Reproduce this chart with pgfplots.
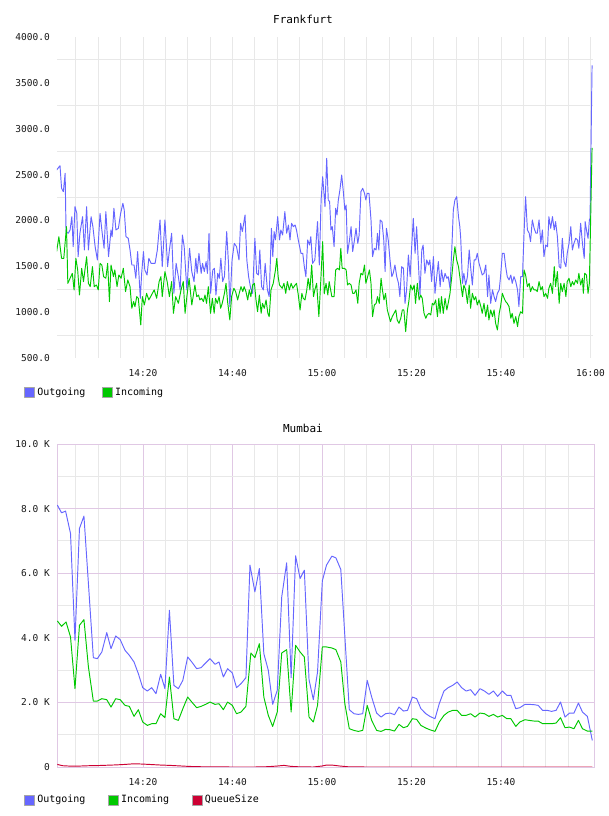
\documentclass[border=0pt]{standalone}
\usepackage{fontspec}
\setmainfont{DejaVu Sans Mono}
\usepackage{pgfplots}
\pgfplotsset{compat=1.18}

\definecolor{outcol}{RGB}{102,102,255}
\definecolor{incol}{RGB}{0,200,0}
\definecolor{qcol}{RGB}{204,0,51}
\definecolor{gridgray}{RGB}{232,232,232}
\definecolor{gridpink}{RGB}{224,200,228}
\definecolor{ticktext}{RGB}{25,25,25}

\pgfplotsset{
  netchart/.style={
    scale only axis,
    xmin=0.78,
    scaled x ticks=false, scaled y ticks=false,
    major tick length=0pt, minor tick length=0pt,
    tick style={draw=none},
    tick label style={font=\fontsize{9.5}{10}\selectfont, text=ticktext},
    /pgf/number format/assume math mode=true,
    minor xtick={5,10,15,25,30,35,45,50,55,65,70,75,85,90,95,105,110,115},
    xticklabel style={anchor=north, inner sep=0pt, yshift=-11pt},
    yticklabel style={anchor=east, inner sep=0pt, xshift=-7pt},
    legend image code/.code={\filldraw[#1, draw=black!35, line width=0.6pt] (0pt,-5pt) rectangle (10pt,5pt);},
    legend style={draw=none, fill=none, inner sep=0pt, font=\fontsize{10}{11}\selectfont,
      legend columns=-1, nodes={inner sep=2.5pt, anchor=west}},
  },
  series/.style={line width=0.95pt, line join=round, mark=none},
}

\begin{document}
\begin{tikzpicture}
\useasboundingbox (0pt,0pt) rectangle (608pt,816pt);

% ---------------- Frankfurt ----------------
\begin{axis}[netchart,
  at={(57pt,458pt)}, anchor=south west,
  width=536pt, height=321pt,
  xmax=120.56, ymin=500, ymax=4000,
  axis line style={draw=none},
  xtick={20,40,60,80,100,120},
  xticklabels={14:20,14:40,15:00,15:20,15:40,16:00},
  ytick={500,1000,1500,2000,2500,3000,3500,4000},
  yticklabels={500.0,1000.0,1500.0,2000.0,2500.0,3000.0,3500.0,4000.0},
  minor ytick={750,1250,1750,2250,2750,3250,3750},
  xmajorgrids, xminorgrids, yminorgrids,
  major grid style={gridgray, line width=0.9pt},
  minor grid style={gridgray, line width=0.9pt},
  title={Frankfurt},
  every axis title/.style={at={(0.459,1)}, anchor=base, yshift=13pt, font=\fontsize{11}{12}\selectfont},
  legend style={at={(-0.0616,-0.106)}, anchor=west, /tikz/every even column/.append style={column sep=14pt}},
]
\addplot[series, color=outcol] coordinates {
(0.7,2550) (1.45,2597) (1.8,2350) (2.2,2314) (2.6,2514) (2.8,1878) (3.3,1860) (3.7,1896)
(4.1,2041) (4.4,1714) (4.8,2150) (5.2,2077) (5.5,1605) (5.9,1860) (6.5,2041) (6.9,1678)
(7.4,2150) (7.8,1678) (8.4,2041) (8.8,1932) (9.3,1714) (9.8,1569) (10.4,2077) (10.8,1896)
(11.3,1696) (11.7,2096) (12.3,1605) (12.85,1896) (13.1,1823) (13.5,2132) (13.95,1896)
(14.5,1914) (15.0,2077) (15.5,2187) (15.8,2114) (16.2,1823) (16.7,1805) (17.1,1678)
(17.5,1514) (18.0,1514) (18.4,1369) (18.8,1660) (19.4,1151) (19.7,1423) (20.1,1660)
(20.4,1460) (20.9,1405) (21.3,1587) (21.8,1532) (22.7,1532) (23.2,1678) (23.8,2005)
(24.3,1496) (24.9,2005) (25.5,1496) (25.9,1678) (26.4,1860) (26.9,1205) (27.4,1532)
(27.9,1387) (28.3,1242) (28.8,1841) (29.2,1714) (29.8,1242) (30.4,1696)
(30.9,1442) (31.4,1333) (31.8,1587) (32.1,1423) (32.5,1641) (33.0,1423) (33.3,1532)
(33.7,1442) (34.1,1551) (34.4,1423) (34.75,1860) (35.1,1205) (35.6,1460) (35.95,1478)
(36.3,1187) (36.7,1423) (37.05,1369) (37.4,1587) (37.8,1333) (38.2,1387) (38.7,1878)
(39.1,1532) (39.4,1060) (39.9,1569) (40.4,1750) (40.9,1714) (41.45,1569) (41.8,1969)
(42.2,1878) (42.8,2059) (43.2,1569) (43.6,1387) (44.06,1260) (44.5,1205) (45.0,1805)
(45.4,1423) (45.8,1405) (46.1,1678) (46.5,1278) (46.9,1242) (47.3,1532) (47.8,1242)
(48.2,1169) (48.7,1914) (49.0,1605) (49.3,1878) (49.6,1787) (50.1,2041) (50.5,1787)
(50.8,1896) (51.2,1841) (51.7,2096) (52.1,1860) (52.5,1950) (52.85,1787) (53.2,1969)
(53.6,1932) (54.0,1950) (54.3,1896) (54.7,1787) (55.3,1641) (55.7,1641) (56.05,1496)
(56.4,1387) (56.8,1787) (57.2,1732) (57.5,1823) (57.9,1532) (58.4,1569) (59.0,1987)
(59.4,1514) (59.8,2223) (60.15,2477)
(60.67,2150) (61.05,2677) (61.4,2223) (61.7,2205) (62.0,1896) (62.3,1932) (62.7,1714)
(63.05,2132) (63.35,2059) (63.65,2223) (64.0,2332) (64.4,2495) (64.8,2296) (65.1,2114)
(65.4,2168) (65.7,1641) (66.1,1769) (66.5,1932) (66.85,1660) (67.2,1769) (67.6,1914)
(68.0,1750) (68.3,1841) (68.7,2314) (69.1,2350) (69.5,2296) (69.8,2223) (70.1,2296)
(70.5,2296) (70.95,2005) (71.3,1605) (71.7,1696) (72.1,1678) (72.4,1860) (72.7,1678)
(73.0,2005) (73.4,1987) (73.8,1787) (74.1,1442) (74.4,1914) (74.8,1787) (75.2,1569)
(75.6,1387) (75.9,1423) (76.3,1514) (76.7,1387) (77.1,1314) (77.4,1169) (77.8,1496)
(78.2,1478) (78.55,1096) (78.9,1242) (79.3,1623) (79.7,1387) (80.0,1678) (80.4,2023)
(80.8,1641) (81.15,1932) (81.5,1569) (81.9,1187) (82.3,1678) (82.6,1732) (83.0,1423)
(83.4,1569) (83.8,1514) (84.1,1569) (84.5,1333) (84.9,1605) (85.25,1205) (85.6,1369)
(86.0,1551) (86.4,1278) (86.7,1460) (87.1,1333) (87.5,1423) (87.9,1369) (88.2,1387)
(88.6,1260) (89.0,1678) (89.35,2114) (89.7,2223) (90.1,2259) (90.5,2041) (90.8,1932)
(91.0,1805) (91.4,1314) (91.7,1423) (92.1,1296) (92.5,1387) (92.9,1678) (93.2,1496)
(93.6,1296) (94.0,1569) (94.35,1569) (94.7,1641) (95.1,1532) (95.5,1460) (95.8,1405)
(96.2,1423) (96.6,1514) (97.0,1169) (97.3,1405) (97.7,1096) (98.1,1242) (98.45,1169)
(98.8,1115) (99.2,1205) (99.6,1242) (99.9,1387) (100.3,1641) (100.7,1641) (101.05,1496)
(101.4,1387) (101.8,1351) (102.2,1405) (102.5,1314) (102.9,1387) (103.3,1333) (103.7,1242)
(104.0,1060) (104.4,1387) (104.8,1387) (105.15,1860) (105.5,2259) (105.9,1896) (106.3,1860)
(106.6,1769) (107.0,2005) (107.4,1914) (107.8,1860) (108.1,1860) (108.5,2005) (108.9,1750)
(109.25,1896) (109.6,1605) (110.0,1732) (110.4,1714) (110.7,2041) (111.1,1914) (111.5,2041)
(111.9,1896) (112.2,1987) (112.6,1823) (113.0,1496) (113.35,1478) (113.7,1805) (114.1,1551)
(114.5,1496) (114.8,1641) (115.2,1750) (115.6,1932) (115.95,1678) (116.3,1750) (116.7,1805)
(117.1,1787) (117.4,1696) (117.8,1969) (118.2,1750) (118.6,1587) (118.8,1987) (119.1,1896)
(119.45,1805) (119.75,2005) (119.9,2023) (120.35,3690)
};
\addlegendentry{Outgoing}
\addplot[series, color=incol] coordinates {
(0.7,1660) (1.2,1823) (1.8,1587) (2.3,1587) (2.9,1932) (3.2,1314) (3.7,1369) (4.2,1423)
(4.6,1242) (5.0,1587) (5.4,1460) (5.8,1187) (6.3,1478) (6.7,1333) (7.4,1605) (7.8,1314)
(8.2,1278) (8.7,1496) (9.1,1278) (9.6,1296) (10.0,1242) (10.4,1532) (10.8,1514) (11.2,1387)
(11.7,1369) (12.1,1532) (12.5,1115) (12.85,1514) (13.4,1387) (13.7,1460) (14.2,1278)
(14.6,1405) (15.1,1369) (15.6,1478) (16.1,1224) (16.6,1351) (17.1,1278) (17.5,1042)
(17.9,1115) (18.2,1060) (18.6,1169) (18.95,1151) (19.5,860) (19.85,1169) (20.3,1078)
(20.8,1205) (21.3,1133) (21.9,1187) (22.5,1242) (23.05,1151) (23.6,1333) (24.0,1387)
(24.3,1169) (24.9,1442) (25.4,1333) (25.9,1169) (26.4,1333) (26.8,987) (27.3,1169)
(27.9,1096) (28.5,1242) (29.0,1333) (29.4,987) (29.8,1169) (30.3,1369)
(30.9,1078) (31.2,1169) (31.6,1296) (32.0,1169) (32.4,1187) (32.7,1133) (33.1,1151)
(33.5,1115) (33.85,1187) (34.2,1096) (34.6,1278) (35.1,987) (35.5,1151) (35.9,987)
(36.2,1151) (36.6,1096) (37.0,1169) (37.35,1042) (37.7,1096) (38.2,1205) (38.55,1314)
(38.9,1115) (39.4,915) (39.8,1169) (40.3,1260) (40.7,1224) (41.15,1133) (41.5,1205)
(41.9,1278) (42.3,1224) (42.6,1278) (43.0,1224) (43.4,1133) (43.75,1242) (44.1,1169)
(44.5,1296) (44.9,1314) (45.25,1133) (45.6,1005) (46.0,1187) (46.4,987) (46.7,1096)
(47.1,1042) (47.5,1133) (47.9,987) (48.2,951) (48.6,1242) (49.1,1314) (49.6,1460)
(49.9,1587) (50.2,1387) (50.5,1296) (51.1,1260) (51.5,1314) (51.9,1205) (52.25,1333)
(52.7,1242) (53.1,1314) (53.5,1260) (54.0,1296) (54.3,1314) (54.7,1187) (55.1,1024)
(55.5,1205) (55.8,1151) (56.2,1133) (56.6,1242) (56.9,1369) (57.3,1242) (57.7,1514)
(58.1,1169) (58.4,1242) (58.8,1314) (59.3,951) (59.7,1314) (60.15,1769) (60.5,1200)
(60.9,1314) (61.3,1187) (61.6,1333)
(62.2,1169) (62.7,1169) (63.05,1460) (63.5,1478) (63.9,1460) (64.2,1696) (64.5,1478)
(65.0,1478) (65.4,1460) (65.7,1296) (66.1,1314) (66.5,1296) (66.85,1205) (67.2,1205)
(67.6,1242) (68.0,1096) (68.3,1314) (68.7,1423) (69.1,1405) (69.5,1514) (69.8,1314)
(70.2,1387) (70.6,1460) (70.95,1314) (71.3,951) (71.7,1078) (72.1,1096) (72.4,1169)
(72.8,1096) (73.2,1369) (73.5,1242) (73.85,1133) (74.2,1205) (74.6,1024) (75.0,951)
(75.3,896) (75.7,951) (76.1,987) (76.5,1024) (76.8,915) (77.2,878) (77.6,933) (77.95,1024)
(78.3,1024) (78.7,787) (79.1,1024) (79.4,1115) (79.8,1296) (80.2,1242) (80.6,1296)
(80.9,1096) (81.3,1314) (81.7,1133) (82.05,1187) (82.4,1151) (82.8,987) (83.2,933)
(83.5,969) (83.9,987) (84.3,969) (84.65,1096) (85.0,1078) (85.4,1133) (85.8,951)
(86.1,1151) (86.4,987) (86.7,1169) (87.1,987) (87.5,1151) (87.9,1024) (88.2,1096)
(88.6,1205) (89.0,1387) (89.35,1569) (89.7,1714) (90.1,1569) (90.5,1496) (90.8,1387)
(91.0,1314) (91.4,1169) (91.7,1296) (92.1,1242) (92.5,1096) (92.9,1296) (93.2,1042)
(93.6,1205) (94.0,1133) (94.35,1169) (94.7,1078) (95.1,1133) (95.5,1060) (95.8,987)
(96.2,1096) (96.6,951) (97.0,1078) (97.3,915) (97.7,1024) (98.1,951) (98.45,1024)
(98.8,878) (99.2,806) (99.6,987) (99.9,1060) (100.3,1205) (100.7,1151) (101.05,1115)
(101.4,1096) (101.8,1060) (102.2,933) (102.5,987) (102.9,878) (103.3,951) (103.7,842)
(104.0,951) (104.4,1005) (104.8,987) (105.15,1460) (105.5,1405) (105.9,1278) (106.3,1314)
(106.6,1224) (107.0,1278) (107.4,1242) (107.8,1242) (108.1,1224) (108.5,1333) (108.9,1242)
(109.25,1278) (109.6,1169) (110.0,1205) (110.4,1151) (110.7,1260) (111.1,1314) (111.5,1205)
(111.9,1496) (112.2,1278) (112.6,1442) (113.0,1096) (113.35,1314) (113.7,1224) (114.1,1314)
(114.5,1169) (114.8,1333) (115.2,1369) (115.6,1278) (115.95,1333) (116.3,1296) (116.7,1351)
(117.1,1314) (117.4,1423) (117.8,1296) (118.2,1369) (118.4,1205) (118.7,1423) (119.1,1405)
(119.45,1205) (119.75,1314) (120.35,2790)
};
\addlegendentry{Incoming}
\end{axis}

% ---------------- Mumbai ----------------
\begin{axis}[netchart,
  at={(57pt,49pt)}, anchor=south west,
  width=537pt, height=323pt,
  xmax=120.78, ymin=0, ymax=10000,
  axis line style={gridpink, line width=0.9pt},
  xtick={20,40,60,80,100},
  xticklabels={14:20,14:40,15:00,15:20,15:40},
  ytick={0,2000,4000,6000,8000,10000},
  yticklabels={0,2.0 K,4.0 K,6.0 K,8.0 K,10.0 K},
  minor ytick={1000,3000,5000,7000,9000},
  grid=both,
  major grid style={gridpink, line width=0.9pt},
  minor grid style={gridgray, line width=0.9pt},
  title={Mumbai},
  every axis title/.style={at={(0.458,1)}, anchor=base, yshift=11pt, font=\fontsize{11}{12}\selectfont},
  legend style={at={(-0.0615,-0.102)}, anchor=west, /tikz/every even column/.append style={column sep=20pt}},
]
\addplot[series, color=outcol] coordinates {
(0.86,8108) (1.8,7870) (2.7,7922) (3.8,7230) (4.8,3922) (5.8,7385) (6.8,7767)
(8.9,3385) (9.8,3354) (10.8,3561) (11.9,4160) (12.85,3664) (13.9,4057) (14.9,3943)
(15.98,3612) (16.95,3457) (17.99,3251) (18.96,2889) (19.93,2456) (20.97,2352) (21.94,2456)
(22.9,2270) (23.95,2869) (24.9,2425) (25.9,4852) (26.9,2528) (27.9,2425) (28.9,2683)
(29.98,3406) (30.9,3251) (31.99,3044) (32.96,3075) (34.0,3220) (34.97,3354) (36.1,3179)
(36.98,3251) (37.95,2786) (38.9,3044) (39.96,2910) (40.9,2456) (41.9,2580) (43.0,2765)
(43.9,6249) (45.0,5422) (46.0,6145) (47.0,3509) (48.0,2993) (48.97,1939) (50.0,2373)
(51.0,5267) (52.1,6320) (53.1,2765) (54.1,6538) (55.1,5835) (56.05,6094) (57.1,2704)
(58.06,2084) (59.0,2941) (60.07,5763) (61.0,6249) (62.2,6527) (63.1,6476) (64.2,6114)
(66.1,1774) (67.15,1650) (68.1,1629) (69.1,1650) (70.1,2683) (71.1,2166) (72.2,1670)
(73.2,1546) (74.2,1650) (75.2,1670) (76.2,1619) (77.2,1856) (78.2,1732) (79.1,1753)
(80.2,2166) (81.15,2115) (82.1,1805) (83.2,1650) (84.1,1567) (85.25,1495) (86.2,1960)
(87.25,2352) (88.2,2456) (89.2,2528) (90.2,2631) (91.2,2456) (92.2,2352) (93.2,2394)
(94.2,2218) (95.3,2425) (96.3,2352) (97.3,2249) (98.3,2352) (99.25,2187) (100.3,2352)
(101.3,2218) (102.2,2218) (103.3,1805) (104.2,1836) (105.35,1939) (106.3,1939) (107.4,1929)
(108.3,1908) (109.3,1753) (110.35,1753) (111.3,1722) (112.3,1753) (113.3,2011) (114.3,1546)
(115.3,1670) (116.3,1670) (117.3,1980) (118.2,1701) (119.3,1567) (120.4,823)
};
\addlegendentry{Outgoing}
\addplot[series, color=incol] coordinates {
(0.86,4522) (1.8,4356) (2.8,4491) (3.8,4026) (4.8,2425) (5.8,4387) (6.8,4563) (7.8,3096)
(8.9,2042) (9.8,2042) (10.8,2115) (11.9,2084) (12.85,1856) (13.9,2115) (14.9,2084)
(15.98,1908) (16.95,1877) (17.99,1567) (18.96,1774) (19.93,1392) (20.97,1288) (21.94,1340)
(22.9,1340) (23.95,1650) (24.9,1526) (25.9,2786) (26.9,1495) (27.9,1443) (28.9,1805)
(29.98,2166) (30.9,2011) (31.99,1836) (32.96,1877) (34.0,1939) (34.97,2011) (36.1,1939)
(36.98,1960) (37.95,1774) (38.9,2011) (39.96,1908) (40.9,1650) (41.9,1701) (43.0,1877)
(44.1,3530) (45.0,3385) (46.0,3819) (47.0,2166) (48.0,1598) (48.97,1257) (50.0,1701)
(51.0,3530) (52.1,3633) (53.1,1701) (54.1,3767) (55.1,3561) (56.05,3406) (57.1,1546)
(58.06,1392) (59.0,1908) (60.07,3716) (61.0,3716) (62.2,3685) (63.1,3633) (64.2,3251)
(65.1,1960) (66.1,1185) (67.15,1133) (68.1,1102) (69.1,1133) (70.1,1908) (71.1,1443)
(72.2,1133) (73.2,1102) (74.2,1164) (75.2,1154) (76.2,1112) (77.2,1319) (78.2,1216)
(79.1,1257) (80.2,1495) (81.15,1474) (82.1,1288) (83.2,1205) (84.1,1154) (85.25,1102)
(86.2,1392) (87.25,1598) (88.2,1701) (89.2,1753) (90.2,1753) (91.2,1598) (92.2,1598)
(93.2,1650) (94.2,1546) (95.3,1670) (96.3,1650) (97.3,1567) (98.3,1629) (99.25,1546)
(100.3,1598) (101.3,1495) (102.2,1495) (103.3,1257) (104.2,1392) (105.35,1464) (106.3,1443)
(107.4,1422) (108.3,1422) (109.3,1340) (110.35,1340) (111.3,1340) (112.3,1360) (113.3,1526)
(114.3,1216) (115.3,1236) (116.3,1185) (117.3,1443) (118.2,1185) (119.3,1112) (120.4,1112)
};
\addlegendentry{Incoming}
\addplot[series, color=qcol] coordinates {
(0.86,80) (2,40) (4,25) (6,30) (8,40) (10,45) (12,55) (14,65) (16,80) (18,100) (20,90)
(22,75) (24,60) (26,50) (28,35) (30,20) (32,10) (35,5) (40,0) (45,0) (48,10) (50,30)
(51.5,50) (53,20) (55,5) (58,0) (60,30) (61,60) (62.5,55) (64,30) (66,5) (70,0) (80,0)
(90,0) (100,0) (110,0) (120.4,0)
};
\addlegendentry{QueueSize}
\end{axis}
\end{tikzpicture}
\end{document}
